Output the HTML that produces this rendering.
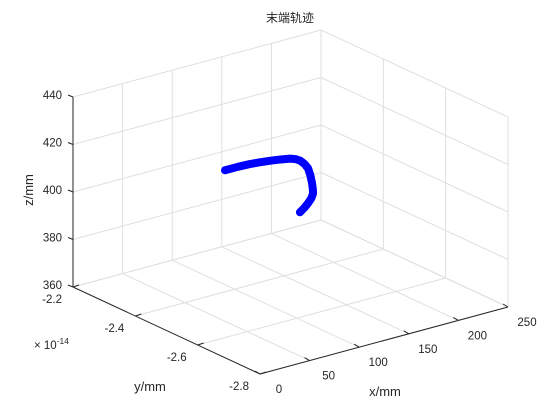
<!DOCTYPE html>
<html><head><meta charset="utf-8"><style>
body{margin:0;background:#fff;}
svg{display:block;font-family:"Liberation Sans","Noto Sans CJK SC",sans-serif;}
</style></head><body>
<svg id="chart" width="560" height="420" viewBox="0 0 560 420">
<rect width="560" height="420" fill="#fff"/>
<text x="290" y="22" text-anchor="middle" font-size="12" fill="#262626">末端轨迹</text>
<g id="grid"></g><g id="axes"></g><g id="series"></g><g id="labels" font-size="11.5" fill="#262626"></g>
</svg>
<script>
const xTicks=[0,50,100,150,200,250];
const yTicks=[-2.8,-2.6,-2.4,-2.2];
const zTicks=[360,380,400,420,440];
const xTickLabels=["0","50","100","150","200","250"];
const yTickLabels=["-2.8","-2.6","-2.4","-2.2"];
const zTickLabels=["360","380","400","420","440"];
const trajX=[59,72,84,94,104,114,124.5,130,134.5,139,142.7,145,146.7,147.5,147.7,146,142.7,139,134.5];
const trajY=[-2.5,-2.5,-2.5,-2.5,-2.5,-2.5,-2.5,-2.5,-2.5,-2.5,-2.5,-2.5,-2.5,-2.5,-2.5,-2.5,-2.5,-2.5,-2.5];
const trajZ=[420.8,420.8,420.6,420.2,419.7,419.1,418.3,417.5,416.4,414.5,412.2,409,405.5,403,401,399.2,397.5,396,394.6];

const B=[260,374],XD=[248,-67],YD=[-187,-87],ZD=[0,-190];
function P(x,y,z){const a=(x-0)/250,b=(y+2.8)/0.6,c=(z-360)/80;
return [B[0]+a*XD[0]+b*YD[0]+c*ZD[0],B[1]+a*XD[1]+b*YD[1]+c*ZD[1]];}
const NS="http://www.w3.org/2000/svg";
function line(g,p,q,col,w,name){const l=document.createElementNS(NS,"line");
l.setAttribute("x1",p[0]);l.setAttribute("y1",p[1]);l.setAttribute("x2",q[0]);l.setAttribute("y2",q[1]);
l.setAttribute("stroke",col);l.setAttribute("stroke-width",w);


document.getElementById(g).appendChild(l);}
function text(x,y,s,anchor,name){const t=document.createElementNS(NS,"text");
t.setAttribute("x",x);t.setAttribute("y",y);t.setAttribute("text-anchor",anchor);t.textContent=s;


document.getElementById("labels").appendChild(t);return t;}
const gc="#dfdfdf";
const x0=0,x1=250,y0=-2.8,y1=-2.2,z0=360,z1=440;
xTicks.forEach(x=>line("grid",P(x,y0,z0),P(x,y1,z0),gc,1,"floor-grid-x"));
yTicks.forEach(y=>line("grid",P(x0,y,z0),P(x1,y,z0),gc,1,"floor-grid-y"));
xTicks.forEach(x=>line("grid",P(x,y1,z0),P(x,y1,z1),gc,1,"wall-grid-x"));
zTicks.forEach(z=>line("grid",P(x0,y1,z),P(x1,y1,z),gc,1,"wall-grid-z"));
yTicks.forEach(y=>line("grid",P(x1,y,z0),P(x1,y,z1),gc,1,"wall-grid-y"));
zTicks.forEach(z=>line("grid",P(x1,y0,z),P(x1,y1,z),gc,1,"wall-grid-z2"));
line("axes",P(x0,y0,z0),P(x1,y0,z0),"#262626",1,"x-axis-line");
line("axes",P(x0,y0,z0),P(x0,y1,z0),"#262626",1,"y-axis-line");
line("axes",P(x0,y1,z0),P(x0,y1,z1),"#262626",1,"z-axis-line");
xTicks.forEach(x=>{const p=P(x,y0,z0);line("axes",p,[p[0]-5,p[1]-3],"#262626",1,"x-tick");});
yTicks.forEach(y=>{const p=P(x0,y,z0);line("axes",p,[p[0]+6,p[1]-2],"#262626",1,"y-tick");});
zTicks.forEach(z=>{const p=P(x0,y1,z);line("axes",p,[p[0]-5,p[1]-2],"#262626",1,"z-tick");});
xTicks.forEach((x,i)=>{const p=P(x,y0,z0);text(p[0]+19,p[1]+19,xTickLabels[i],"middle","x-tick-label");});
yTicks.forEach((y,i)=>{const p=P(x0,y,z0);text(p[0]-11,p[1]+16,yTickLabels[i],"end","y-tick-label");});
zTicks.forEach((z,i)=>{const p=P(x0,y1,z);text(p[0]-11,p[1]+2,zTickLabels[i],"end","z-tick-label");});
text(385,396,"x/mm","middle","x-axis-title").setAttribute("font-size","13");
text(150,391,"y/mm","middle","y-axis-title").setAttribute("font-size","13");
const zt=text(33,190,"z/mm","middle","z-axis-title");zt.setAttribute("font-size","13");zt.setAttribute("transform","rotate(-90 33 190)");
const ex=text(34,349,"× 10","start","y-exponent-label");ex.setAttribute("font-size","11.5");
const sup=document.createElementNS(NS,"tspan");sup.setAttribute("dy","-5");sup.setAttribute("font-size","8.5");sup.textContent="-14";ex.appendChild(sup);
const pts=trajX.map((x,i)=>P(x,trajY[i],trajZ[i]).join(",")).join(" ");
const pl=document.createElementNS(NS,"polyline");
pl.setAttribute("points",pts);pl.setAttribute("fill","none");pl.setAttribute("stroke","#0000ff");
pl.setAttribute("stroke-width","8");pl.setAttribute("stroke-linecap","round");pl.setAttribute("stroke-linejoin","round");


document.getElementById("series").appendChild(pl);
</script>
</body></html>
